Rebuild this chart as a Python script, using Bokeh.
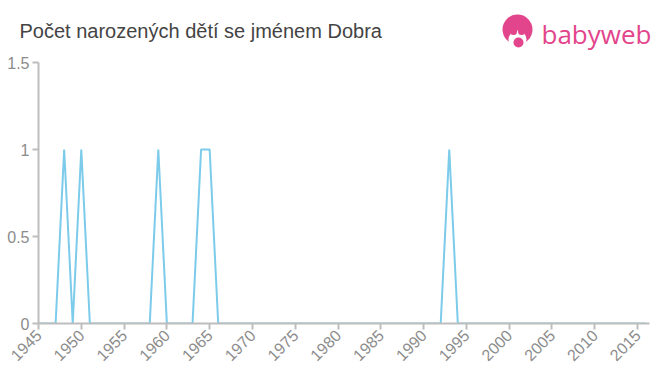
from bokeh.plotting import figure
from bokeh.models import Range1d, FixedTicker, ColumnDataSource
from bokeh.layouts import column
from bokeh.core.properties import value
from bokeh.embed import file_html
from bokeh.resources import INLINE
from math import pi

title_text = "Počet narozených dětí se jménem Dobra"
logo_text = "babyweb"
years = list(range(1945, 2017))
nonzero = {1948: 1, 1950: 1, 1959: 1, 1964: 1, 1965: 1, 1993: 1}
counts = [nonzero.get(y, 0) for y in years]
x_ticks = list(range(1945, 2016, 5))
y_ticks = [0, 0.5, 1, 1.5]

FONT = "Liberation Sans"
GREY = "#8c8c8c"
AXIS = "#bdbdbd"
PINK = "#e2458b"
W, HH = 660, 56
BL, BR = 38, 11

# ---- header (title + logo), canvas pixel coordinates
h = figure(width=W, height=HH, output_backend="svg", toolbar_location=None, title=None,
           x_range=Range1d(0, W), y_range=Range1d(HH, 0),
           min_border=0, min_border_left=0, min_border_right=0, min_border_top=0, min_border_bottom=0)
h.frame_align = False
h.axis.visible = False
h.grid.visible = False
h.outline_line_color = None
h.background_fill_color = "white"
h.border_fill_color = "white"

h.text(x=[19], y=[30], text=[title_text], text_font=value(FONT), text_font_size="20px",
       text_color="#444444", text_baseline="alphabetic", text_align="left")
h.circle(x=[517], y=[29], radius=15, fill_color=PINK, line_color=None)
h.circle(x=[517], y=[39], radius=9, fill_color="white", line_color=None)
h.circle(x=[513, 521], y=[31, 31], radius=3.5, fill_color=PINK, line_color=None)
h.circle(x=[518], y=[42], radius=5, fill_color=PINK, line_color=None)
h.text(x=[541], y=[33], text=[logo_text], text_font=value("Open Sans"), text_font_size="26px",
       text_color=PINK, text_baseline="alphabetic", text_align="left")

# ---- main chart
p = figure(width=W, height=375 - HH, output_backend="svg", toolbar_location=None, title=None,
           x_range=Range1d(1945, 2016.4), y_range=Range1d(0, 1.5),
           min_border_left=BL, min_border_right=BR, min_border_top=62 - HH, min_border_bottom=52)
p.frame_align = False
p.outline_line_color = None
p.background_fill_color = "white"
p.border_fill_color = "white"
p.xgrid.grid_line_color = None
p.ygrid.grid_line_color = None

src = ColumnDataSource(dict(x=years, y=counts))
p.line("x", "y", source=src, line_color="#7ccbea", line_width=2)

for ax in (p.xaxis[0], p.yaxis[0]):
    ax.axis_line_color = AXIS
    ax.axis_line_width = 2
    ax.major_tick_line_color = AXIS
    ax.major_tick_line_width = 2
    ax.minor_tick_line_color = None
    ax.major_tick_in = 0
    ax.major_tick_out = 6
    ax.major_label_text_color = GREY
    ax.major_label_text_font = FONT
    ax.major_label_text_font_size = "16px"

p.xaxis[0].ticker = FixedTicker(ticks=x_ticks)
p.yaxis[0].ticker = FixedTicker(ticks=y_ticks)
p.xaxis[0].major_label_orientation = pi / 4
p.yaxis[0].major_label_overrides = {0: "0", 0.5: "0.5", 1: "1", 1.5: "1.5"}
p.xaxis[0].major_label_standoff = 3
p.yaxis[0].major_label_standoff = 3

layout = column(h, p, spacing=0)
open("out.html", "w").write(file_html(layout, INLINE))
